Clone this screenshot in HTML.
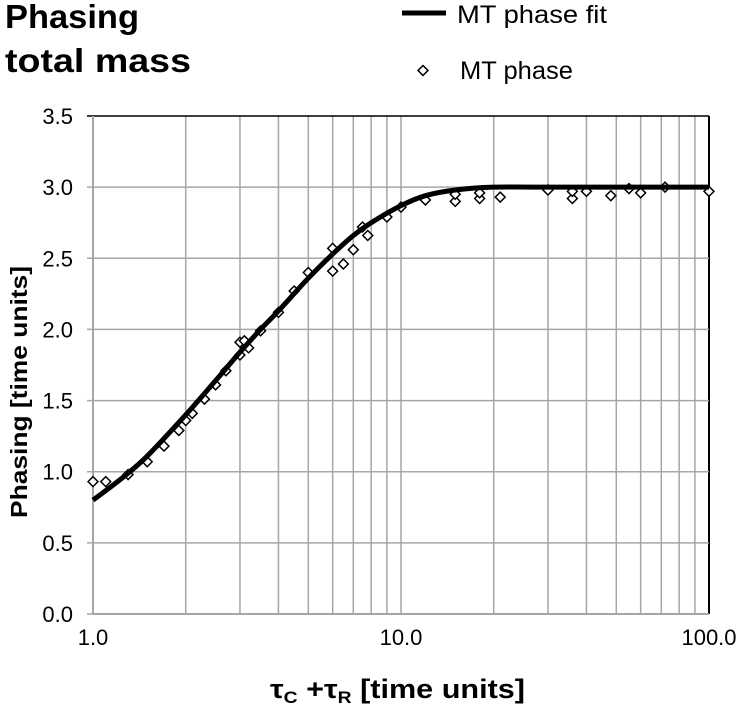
<!DOCTYPE html>
<html><head><meta charset="utf-8"><style>
body{margin:0;background:#fff;}
svg text{font-family:"Liberation Sans",Arial,sans-serif;}
</style></head><body>
<svg id="chart" width="741" height="707" xmlns="http://www.w3.org/2000/svg">
<text x="5" y="28" font-size="33" font-weight="bold" textLength="134" lengthAdjust="spacingAndGlyphs">Phasing</text>
<text x="5" y="72" font-size="33" font-weight="bold" textLength="186" lengthAdjust="spacingAndGlyphs">total mass</text>
<g>
<line x1="402" y1="13" x2="446" y2="13" stroke="#000" stroke-width="5"/>
<text x="457" y="23" font-size="25" textLength="150" lengthAdjust="spacingAndGlyphs">MT phase fit</text>
<rect x="419.5" y="67" width="7" height="7" fill="#fff" stroke="#000" stroke-width="1.5" transform="rotate(45 423 70.5)"/>
<text x="460" y="79" font-size="25" textLength="113" lengthAdjust="spacingAndGlyphs">MT phase</text>
</g>
<g id="grid"></g>
<g id="axes"></g>
<g id="series"></g>
<text x="270" y="698" font-size="27" font-weight="bold" textLength="255" lengthAdjust="spacingAndGlyphs">τ<tspan font-size="17" dy="5">C</tspan><tspan dy="-5"> +τ</tspan><tspan font-size="17" dy="5">R</tspan><tspan dy="-5">  [time units]</tspan></text>
<text transform="translate(27 392) rotate(-90)" font-size="23" font-weight="bold" text-anchor="middle" textLength="252" lengthAdjust="spacingAndGlyphs">Phasing  [time units]</text>
</svg>
<script>
const yTicks=[0,0.5,1,1.5,2,2.5,3,3.5];
const xTickLabels=["1.0","10.0","100.0"];
const xTickValues=[1,10,100];
const phaseX=[1.0,1.1,1.3,1.5,1.7,1.9,2.0,2.1,2.3,2.5,2.7,3.0,3.1,3.0,3.2,3.5,4.0,4.5,5.0,6.0,6.0,6.5,7.0,7.5,7.8,9,10,12,15,15,18,18,21,30,36,36,40,48,55,60,72,100];
const phaseY=[0.93,0.93,0.98,1.07,1.18,1.29,1.36,1.41,1.51,1.61,1.71,1.91,1.92,1.82,1.87,1.99,2.12,2.27,2.40,2.57,2.41,2.46,2.56,2.72,2.66,2.79,2.86,2.91,2.90,2.95,2.92,2.96,2.93,2.98,2.92,2.97,2.97,2.94,2.99,2.96,3.00,2.97];
const fitX=[1,1.25,1.5,2,2.5,3,3.5,4,5,6,7,8,10,12,15,20,30,100];
const fitY=[0.80,0.96,1.11,1.40,1.64,1.84,2.00,2.13,2.36,2.53,2.66,2.75,2.87,2.94,2.98,3.0,3.0,3.0];
const L=93,R=709,T=116,B=614;
const xs=v=>L+(Math.log10(v)/2)*(R-L);
const ys=v=>B-(v/3.5)*(B-T);
const NS="http://www.w3.org/2000/svg";
function mk(tag,parent,attrs){const e=document.createElementNS(NS,tag);for(const k in attrs)e.setAttribute(k,attrs[k]);parent.appendChild(e);return e;}
const grid=document.getElementById('grid'),axes=document.getElementById('axes'),series=document.getElementById('series');
for(let d=1;d<=100;d*=10){for(let m=1;m<10&&d*m<=100;m++){const v=d*m;if(v===1)continue;const x=xs(v);
const l=mk('line',grid,{x1:x,y1:T,x2:x,y2:B,stroke:v===100?'#000':'#a6a6a6','stroke-width':v===100?2:1.5});

}}
yTicks.forEach(t=>{const y=ys(t);
const l=mk('line',grid,{x1:L-6,y1:y,x2:R,y2:y,stroke:t===3.5?'#000':'#a6a6a6','stroke-width':1.5});


const tx=mk('text',axes,{x:73,y:y+8,'font-size':22,'text-anchor':'end'});tx.textContent=t.toFixed(1);

});
const ax=mk('path',axes,{d:`M${L},${T} V${B} H${R}`,stroke:'#a6a6a6','stroke-width':2,fill:'none'});


xTickValues.forEach((v,i)=>{const tx=mk('text',axes,{x:xs(v),y:645,'font-size':22,'text-anchor':'middle'});tx.textContent=xTickLabels[i];

});
const P=fitX.map((v,i)=>[xs(v),ys(fitY[i])]);
let d=`M${P[0][0]},${P[0][1]}`;
for(let i=0;i<P.length-1;i++){const p0=P[Math.max(0,i-1)],p1=P[i],p2=P[i+1],p3=P[Math.min(P.length-1,i+2)];
d+=` C${p1[0]+(p2[0]-p0[0])/6},${p1[1]+(p2[1]-p0[1])/6} ${p2[0]-(p3[0]-p1[0])/6},${p2[1]-(p3[1]-p1[1])/6} ${p2[0]},${p2[1]}`;}
phaseX.forEach((v,i)=>{const x=xs(v),y=ys(phaseY[i]);
const r=mk('rect',series,{x:x-3.5,y:y-3.5,width:7,height:7,fill:'#fff',stroke:'#000','stroke-width':1.5,transform:`rotate(45 ${x} ${y})`});

});
const fit=mk('path',series,{d:d,stroke:'#000','stroke-width':5,fill:'none'});


</script>
</body></html>
